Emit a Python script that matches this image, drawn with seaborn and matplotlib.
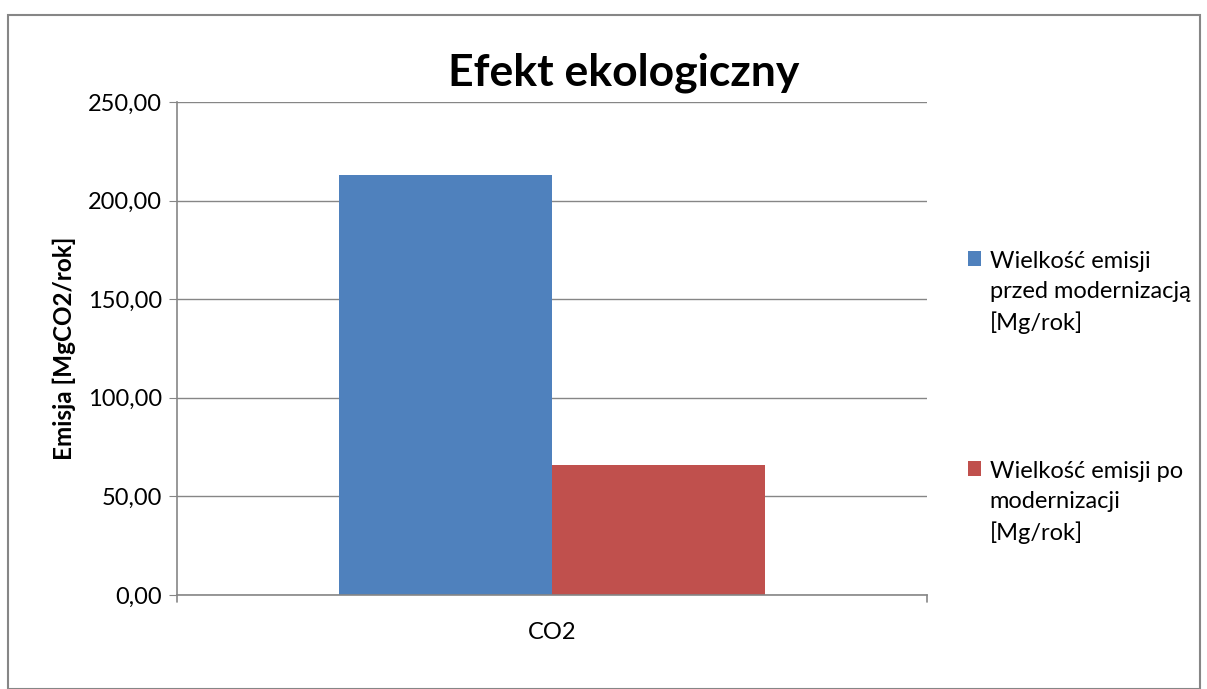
import pandas as pd
import seaborn as sns
import matplotlib.pyplot as plt
from matplotlib.patches import Rectangle
from matplotlib.ticker import FuncFormatter

sns.set_style("white")
plt.rcParams["font.family"] = ["Lato", "DejaVu Sans"]
plt.rcParams["text.color"] = "black"
plt.rcParams["axes.labelcolor"] = "black"
plt.rcParams["xtick.labelcolor"] = "black"
plt.rcParams["ytick.labelcolor"] = "black"

categories = ["CO2"]
series = ["Wielkość emisji\nprzed modernizacją\n[Mg/rok]",
          "Wielkość emisji po\nmodernizacji\n[Mg/rok]"]
values = [213.0, 66.0]
colors = ["#4F81BD", "#C0504D"]

df = pd.DataFrame({"kategoria": categories * 2, "seria": series, "emisja": values})

fig = plt.figure(figsize=(12.07, 6.89), dpi=100)
ax = fig.add_axes([177/1207, 1 - 595/689, 750/1207, 493/689])

sns.barplot(data=df, x="kategoria", y="emisja", hue="seria", palette=colors,
            width=0.567, saturation=1, linewidth=0, ax=ax)

grid = "#868686"
ax.set_ylim(0, 250)
ax.set_xlim(-0.5, 0.5)
ax.set_yticks([0, 50, 100, 150, 200, 250])
ax.yaxis.set_major_formatter(FuncFormatter(lambda v, p: f"{v:.2f}".replace(".", ",")))
ax.yaxis.grid(True, color=grid, linewidth=1)
ax.set_axisbelow(True)
for s in ["top", "right"]:
    ax.spines[s].set_visible(False)
for s in ["left", "bottom"]:
    ax.spines[s].set_color(grid)
    ax.spines[s].set_linewidth(1.2)
ax.tick_params(axis="y", left=True, length=6, color=grid, labelsize=17, pad=5)
ax.tick_params(axis="x", bottom=False, labelsize=17, pad=16)
# small ticks at the ends of the category axis
ax.plot([-0.5, -0.5], [0, -0.015], transform=ax.get_xaxis_transform(), color=grid, lw=1.2, clip_on=False)
ax.plot([0.5, 0.5], [0, -0.015], transform=ax.get_xaxis_transform(), color=grid, lw=1.2, clip_on=False)

ax.set_xlabel("")
ax.set_ylabel("Emisja [MgCO2/rok]", fontsize=17.5, fontweight="bold", labelpad=8)
ax.set_title("Efekt ekologiczny", fontsize=32, fontweight="bold", x=0.595, pad=12)

leg = ax.legend(loc="upper left", bbox_to_anchor=(1.027, 0.74), frameon=False,
                fontsize=17, handlelength=0.55, handleheight=0.55, handletextpad=0.35,
                labelspacing=5.4)
for t in leg.get_texts():
    t.set_linespacing(1.5)
    t.set_color("black")
# handle next to the first line of each label
for col in leg._legend_handle_box.get_children():
    for row in col.get_children():
        row.align = "top"

fig.patches.append(Rectangle((8/1207, 0), 1192/1207, 1 - 15/689, transform=fig.transFigure,
                             fill=False, edgecolor=grid, linewidth=1.5))

plt.savefig("out.png", dpi=100)
